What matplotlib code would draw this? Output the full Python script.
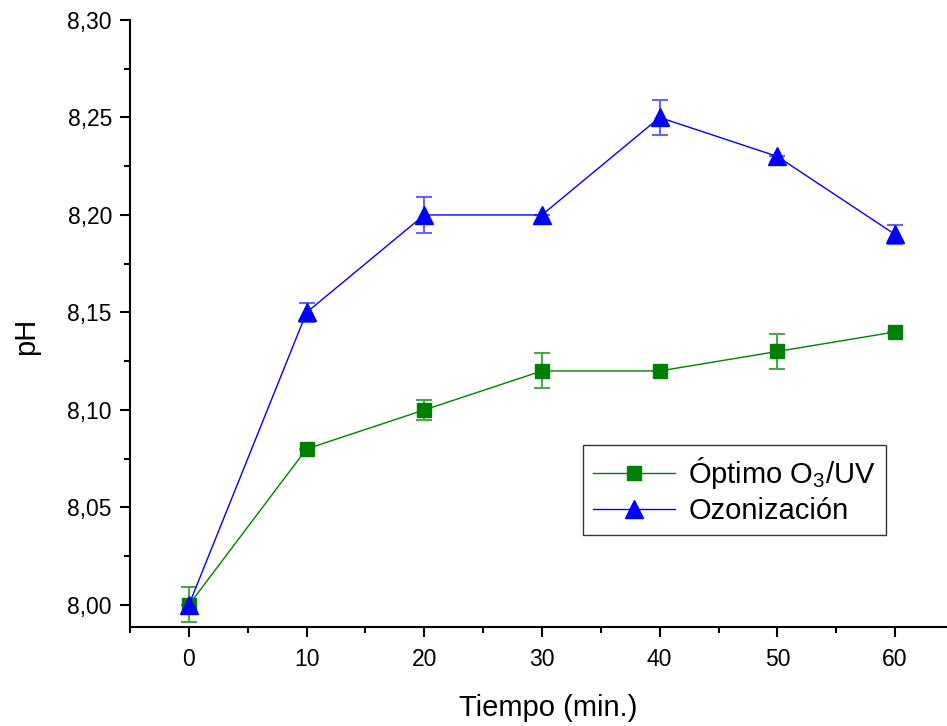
import matplotlib

matplotlib.use("Agg")
import matplotlib.pyplot as plt
from matplotlib.ticker import FuncFormatter, MultipleLocator

plt.rcParams["font.family"] = ["Liberation Sans", "DejaVu Sans"]
plt.rcParams["mathtext.fontset"] = "custom"
plt.rcParams["mathtext.rm"] = "Liberation Sans"
plt.rcParams["mathtext.it"] = "Liberation Sans"

# data
tiempo = [0, 10, 20, 30, 40, 50, 60]
ph_o3uv = [8.00, 8.08, 8.10, 8.12, 8.12, 8.13, 8.14]
err_o3uv = [0.009, 0.0, 0.005, 0.009, 0.0, 0.009, 0.0]
ph_ozon = [8.00, 8.15, 8.20, 8.20, 8.25, 8.23, 8.19]
err_ozon = [0.0, 0.005, 0.009, 0.0, 0.009, 0.0, 0.005]

fig = plt.figure(figsize=(9.47, 7.26), dpi=100)
ax = fig.add_axes([0.1373, 0.1364, 0.87, 0.8361])

green = "#008000"
blue = "#0000ff"

ax.errorbar(tiempo, ph_o3uv, yerr=err_o3uv, fmt="none", ecolor="#4da64d",
            elinewidth=1.5, capsize=6, capthick=1.5)
ax.errorbar(tiempo, ph_ozon, yerr=err_ozon, fmt="none", ecolor="#6666ff",
            elinewidth=1.5, capsize=6, capthick=1.5)
ax.plot(tiempo, ph_o3uv, color=green, lw=1, marker="s", ms=9.5,
        label="Óptimo O$_3$/UV")
ax.plot(tiempo, ph_ozon, color=blue, lw=1, marker="^", ms=13,
        label="Ozonización")

ax.set_xlim(-5, 65)
ax.set_ylim(7.9887, 8.30)
ax.xaxis.set_major_locator(MultipleLocator(10))
ax.xaxis.set_minor_locator(MultipleLocator(5))
ax.yaxis.set_major_locator(MultipleLocator(0.05))
ax.yaxis.set_minor_locator(MultipleLocator(0.025))
ax.yaxis.set_major_formatter(FuncFormatter(lambda v, p: f"{v:.2f}".replace(".", ",")))

for side in ("top", "right"):
    ax.spines[side].set_visible(False)
for side in ("left", "bottom"):
    ax.spines[side].set_linewidth(1.5)
ax.tick_params(which="major", direction="out", length=7, width=1.5,
               labelsize=16.5)
ax.tick_params(axis="y", which="major", pad=6)
ax.tick_params(axis="x", which="major", pad=8)
ax.tick_params(which="minor", direction="out", length=4, width=1.5)

ax.set_xlabel("Tiempo (min.)", fontsize=21, labelpad=17)
ax.xaxis.label.set_x(0.507)
ax.set_ylabel("pH", fontsize=21)
ax.yaxis.set_label_coords(-0.109, 0.479)

leg = ax.legend(loc="upper left", bbox_to_anchor=(0.55, 0.30), fontsize=21,
                frameon=True, fancybox=False, edgecolor="black",
                handlelength=2.8, borderpad=0.35, labelspacing=0.2,
                handletextpad=0.45, borderaxespad=0)
leg.get_frame().set_linewidth(1)

fig.savefig("out.png", dpi=100)
